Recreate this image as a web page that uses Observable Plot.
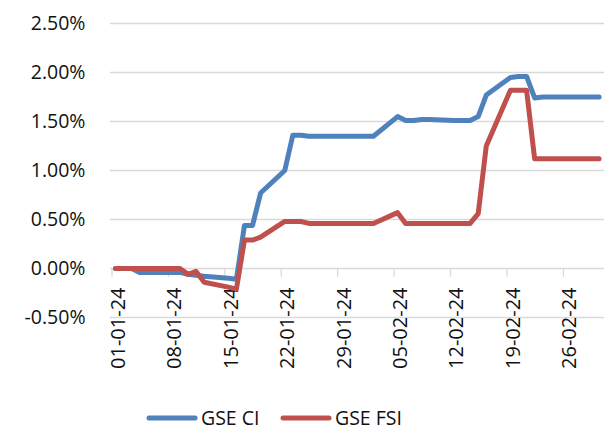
<!DOCTYPE html>
<html>
<head>
<meta charset="utf-8">
<script src="https://cdn.jsdelivr.net/npm/d3@7"></script>
<script src="https://cdn.jsdelivr.net/npm/@observablehq/plot@0.6"></script>
<style>
  html, body { margin: 0; padding: 0; background: #fff; }
  body { width: 604px; height: 430px; overflow: hidden; font-family: "Open Sans", sans-serif; }
  #legend { position: relative; height: 35px; }
  .item { position: absolute; top: 9px; display: flex; align-items: center; font-size: 19.5px; color: #111; }
  .item svg { margin-right: 3px; }
</style>
</head>
<body>
<div id="chart"></div>
<div id="legend"></div>
<script>
// ---- data ----
const dates = [
  "2024-01-01","2024-01-02","2024-01-03","2024-01-04","2024-01-05",
  "2024-01-08","2024-01-09","2024-01-10","2024-01-11","2024-01-12",
  "2024-01-15","2024-01-16","2024-01-17","2024-01-18","2024-01-19",
  "2024-01-22","2024-01-23","2024-01-24","2024-01-25","2024-01-26",
  "2024-01-29","2024-01-30","2024-01-31","2024-02-01","2024-02-02",
  "2024-02-05","2024-02-06","2024-02-07","2024-02-08","2024-02-09",
  "2024-02-12","2024-02-13","2024-02-14","2024-02-15","2024-02-16",
  "2024-02-19","2024-02-20","2024-02-21","2024-02-22","2024-02-23",
  "2024-02-26","2024-02-27","2024-02-28","2024-02-29","2024-03-01"
];
const gseCI = [
  0.00, 0.00, 0.00, -0.04, -0.04,
  -0.04, -0.04, -0.06, -0.07, -0.08,
  -0.10, -0.11, 0.44, 0.44, 0.77,
  1.00, 1.36, 1.36, 1.35, 1.35,
  1.35, 1.35, 1.35, 1.35, 1.35,
  1.55, 1.51, 1.51, 1.52, 1.52,
  1.51, 1.51, 1.51, 1.55, 1.77,
  1.95, 1.96, 1.96, 1.74, 1.75,
  1.75, 1.75, 1.75, 1.75, 1.75
];
const gseFSI = [
  0.00, 0.00, 0.00, 0.00, 0.00,
  0.00, 0.00, -0.06, -0.03, -0.14,
  -0.19, -0.21, 0.29, 0.29, 0.32,
  0.48, 0.48, 0.48, 0.46, 0.46,
  0.46, 0.46, 0.46, 0.46, 0.46,
  0.57, 0.46, 0.46, 0.46, 0.46,
  0.46, 0.46, 0.46, 0.56, 1.25,
  1.82, 1.82, 1.82, 1.12, 1.12,
  1.12, 1.12, 1.12, 1.12, 1.12
];
const seriesNames = ["GSE CI", "GSE FSI"];
const seriesColors = ["#4F81BD", "#C0504D"];
const yTicks = [-0.5, 0, 0.5, 1.0, 1.5, 2.0, 2.5];
const xTickLabels = ["01-01-24","08-01-24","15-01-24","22-01-24","29-01-24","05-02-24","12-02-24","19-02-24","26-02-24"];

// ---- build tables ----
const parseDate = d3.utcParse("%Y-%m-%d");
const parseTick = d3.utcParse("%d-%m-%y");
const rows = [];
dates.forEach((d, i) => {
  rows.push({date: parseDate(d), value: gseCI[i], series: seriesNames[0]});
  rows.push({date: parseDate(d), value: gseFSI[i], series: seriesNames[1]});
});
const xTicks = xTickLabels.map(parseTick);
const fmtTick = d3.utcFormat("%d-%m-%y");

const W = 604, H = 395;
const chart = Plot.plot({
  width: W, height: H,
  marginLeft: 110, marginRight: 0, marginTop: 23, marginBottom: 78,
  style: {fontFamily: "Open Sans, sans-serif", fontSize: "19px", color: "#111", background: "#fff"},
  x: {type: "utc", domain: [parseDate(dates[0]), parseDate(dates[dates.length - 1])], range: [115, 598.6], axis: null},
  y: {domain: [-0.5, 2.5], axis: null},
  color: {domain: seriesNames, range: seriesColors},
  marks: [
    Plot.ruleY(yTicks, {stroke: "#d9d9d9", strokeWidth: 1.3}),
    Plot.ruleX(xTicks, {x: d => d, y1: 0, y2: -0.09, stroke: "#d9d9d9", strokeWidth: 1.3, dx: -3.5}),
    Plot.axisY({ticks: yTicks, tickSize: 0, tickPadding: 25, tickFormat: d => d.toFixed(2) + "%", fontSize: 19.5, label: null}),
    Plot.text(xTicks, {x: d => d, y: 0, text: d => fmtTick(d), rotate: -90, textAnchor: "end", dy: 19, dx: 3, fontSize: 20, fill: "#111"}),
    Plot.line(rows, {x: "date", y: "value", z: "series", stroke: "series", strokeWidth: 5, strokeLinecap: "round", strokeLinejoin: "round"})
  ]
});
document.getElementById("chart").appendChild(chart);

// ---- legend ----
const legend = document.getElementById("legend");
const lefts = [146, 280];
seriesNames.forEach((name, i) => {
  const item = document.createElement("div");
  item.className = "item";
  item.style.left = lefts[i] + "px";
  item.innerHTML = `<svg width="52" height="8"><line x1="3" y1="4" x2="49" y2="4" stroke="${seriesColors[i]}" stroke-width="5" stroke-linecap="round"/></svg><span>${name}</span>`;
  legend.appendChild(item);
});
</script>
</body>
</html>
